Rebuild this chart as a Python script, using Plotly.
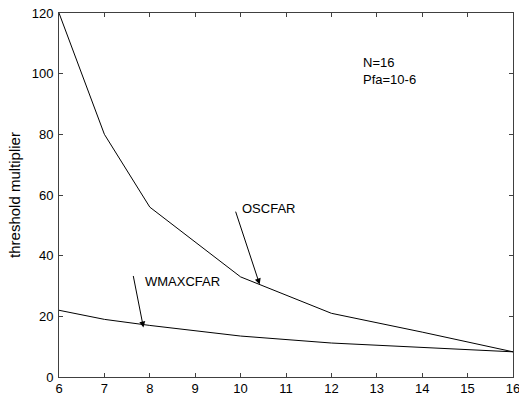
import plotly.graph_objects as go

x_os = [6, 7, 8, 10, 12, 14, 16]
os_cfar = [120, 80, 56, 33, 21, 14.8, 8.3]
x_wm = [6, 7, 8, 10, 12, 14, 16]
wmax_cfar = [22, 19, 17, 13.5, 11.2, 9.7, 8.3]
x_ticks = list(range(6, 17))
y_ticks = [0, 20, 40, 60, 80, 100, 120]

FONT = "Liberation Sans, Arial, sans-serif"

fig = go.Figure()
fig.add_trace(go.Scatter(x=x_os, y=os_cfar, mode="lines", line=dict(color="black", width=1), showlegend=False))
fig.add_trace(go.Scatter(x=x_wm, y=wmax_cfar, mode="lines", line=dict(color="black", width=1), showlegend=False))

ann = [
    dict(x=12.65, y=101, text="N=16<br>Pfa=10-6", showarrow=False, xanchor="left", yanchor="middle", align="left"),
    dict(x=9.98, y=55.5, text="OSCFAR", showarrow=False, xanchor="left", yanchor="middle"),
    dict(x=7.85, y=31.5, text="WMAXCFAR", showarrow=False, xanchor="left", yanchor="middle"),
    dict(x=10.42, y=30.5, ax=9.88, ay=55, axref="x", ayref="y", text="", showarrow=True,
         arrowhead=2, arrowsize=1.2, arrowwidth=1, arrowcolor="black"),
    dict(x=7.86, y=16.3, ax=7.63, ay=33.8, axref="x", ayref="y", text="", showarrow=True,
         arrowhead=2, arrowsize=1.2, arrowwidth=1, arrowcolor="black"),
]
for a in ann:
    a.setdefault("font", dict(family=FONT, size=13, color="black"))
fig.update_layout(annotations=ann)

axis_common = dict(showgrid=False, zeroline=False, showline=True, linecolor="#404040", linewidth=1,
                   mirror="ticks", ticks="inside", ticklen=4, tickcolor="#404040", automargin=False,
                   ticklabeloverflow="allow",
                   tickfont=dict(family=FONT, size=13, color="black"))
fig.update_xaxes(range=[6, 16], tickvals=x_ticks, ticklabelstandoff=-1, **axis_common)
fig.update_yaxes(range=[0, 120], tickvals=y_ticks, ticklabelstandoff=2,
                 title=dict(text="threshold multiplier", font=dict(family=FONT, size=15, color="black"), standoff=7),
                 **axis_common)

fig.update_layout(width=519, height=400, margin=dict(l=59, r=6, t=13, b=23),
                  plot_bgcolor="white", paper_bgcolor="white")
# remove the browser's default 8px body margin so the figure fills the window
fig.write_html("out.html", config={"displayModeBar": False},
               post_script="document.body.style.margin='0';")
